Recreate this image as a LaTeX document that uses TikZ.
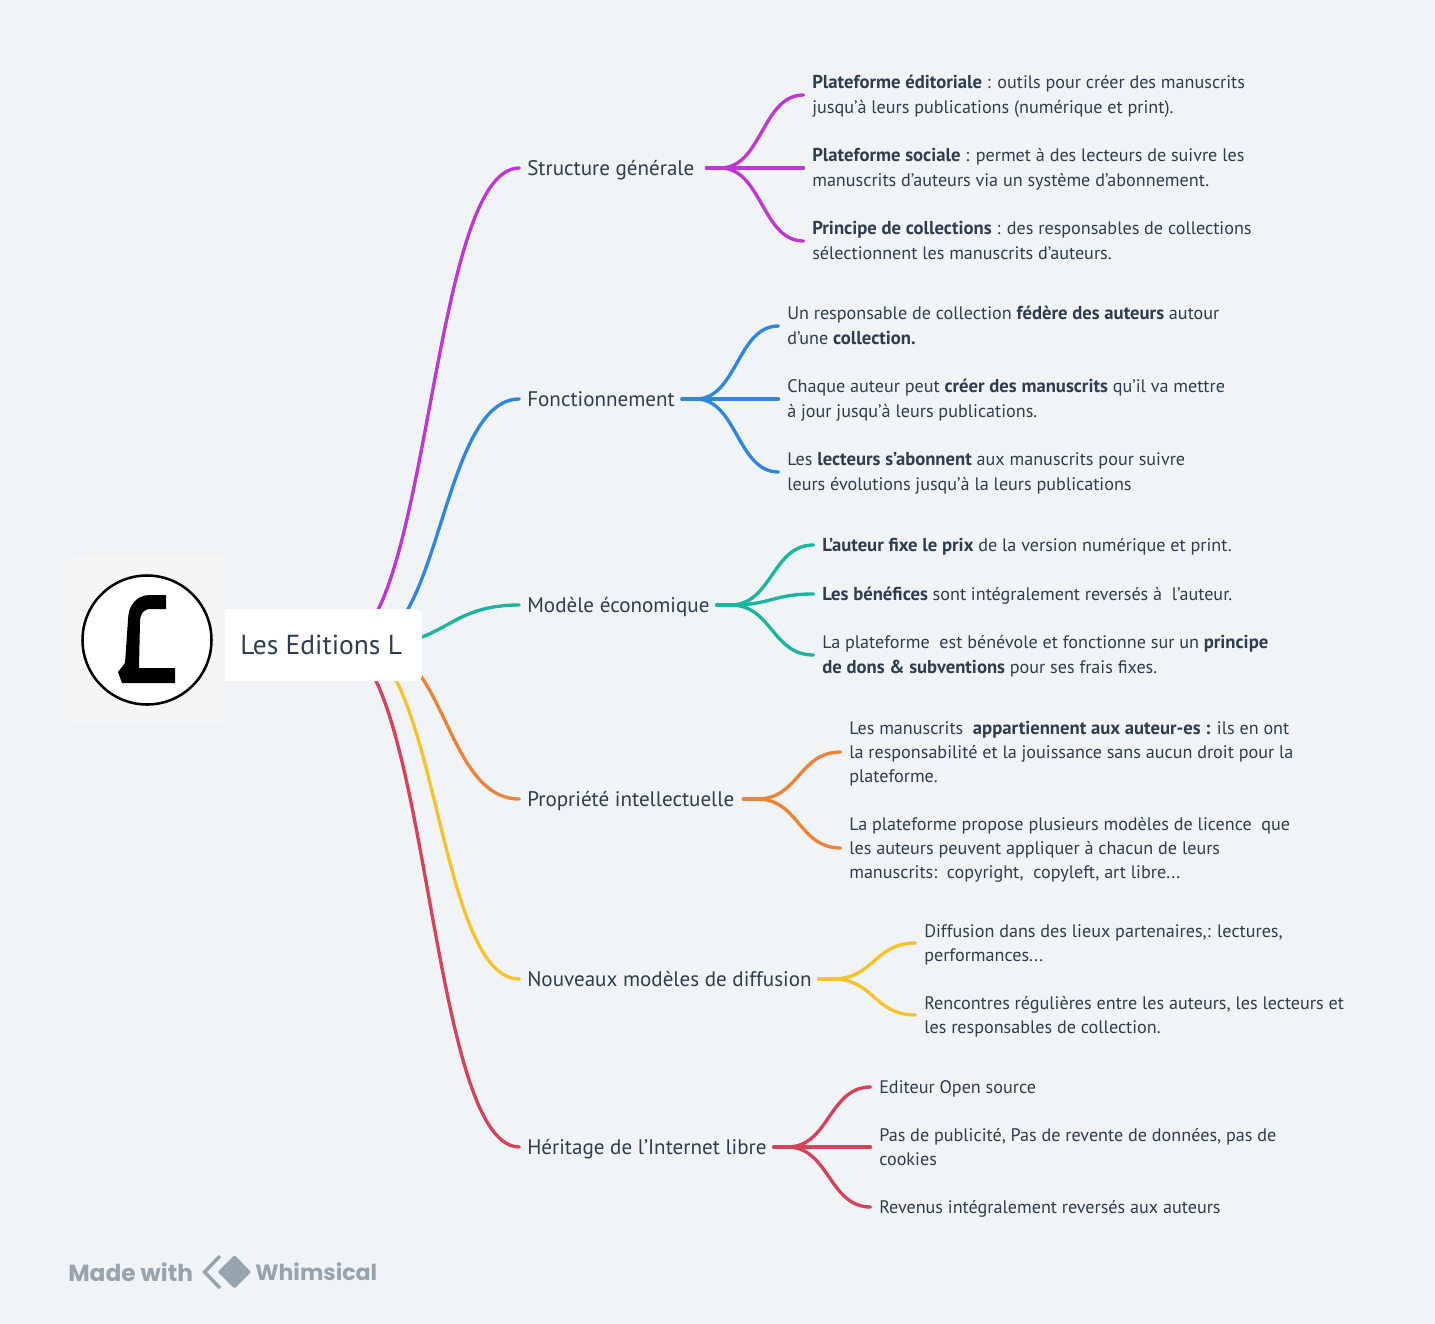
\documentclass[tikz,border=0pt]{standalone}
\usepackage{fontspec}
\usetikzlibrary{calc}
\setmainfont{PT Sans}
\newfontfamily\logofont{Poppins}
\definecolor{bgc}{HTML}{F0F4F7}
\definecolor{inkc}{HTML}{2E3D4F}
\definecolor{purplec}{HTML}{BF36D3}
\definecolor{bluec}{HTML}{2F87DD}
\definecolor{tealc}{HTML}{1AB5A0}
\definecolor{orangec}{HTML}{EC8338}
\definecolor{yellowc}{HTML}{F9C22B}
\definecolor{redc}{HTML}{D5425A}
\definecolor{greyc}{HTML}{97A4AE}
\tikzset{
  x=0.75pt,y=-0.75pt,
  conn/.style={line width=2.5pt,line cap=round},
  branch/.style={anchor=west,inner xsep=5.8pt,inner ysep=0pt,text=inkc,font=\fontsize{15.8}{18}\selectfont,
    execute at begin node={\rule{0pt}{14.5pt}},execute at end node={\rule[-3.3pt]{0pt}{0pt}}},
  leaf/.style={anchor=west,inner xsep=6.375pt,inner ysep=0pt,text=inkc,align=left,font=\fontsize{13.6}{18.75}\selectfont,
    execute at end node={\rule[-3.5pt]{0pt}{0pt}}},
  leafb/.style={leaf,font=\fontsize{13.6}{18}\selectfont},
}
\newcommand\topfix{\rule{0pt}{12.7pt}}
\newcommand\bld[1]{{\fontsize{14}{18}\selectfont\bfseries #1}}
\newcommand\swoop[3]{\draw[conn,#1] let \p1=(#2),\p2=(#3) in (\p1) .. controls ({(\x1+\x2)/2},\y1) and ({(\x1+\x2)/2},\y2) .. (\p2);}
\begin{document}
\begin{tikzpicture}
\useasboundingbox (0,0) rectangle (1435,1324);
\fill[bgc] (0,0) rectangle (1435,1324);
% hubs
\coordinate (hp) at (340,645);
\coordinate (hb) at (363,645);
\coordinate (ht) at (374,645);
\coordinate (ho) at (372,645);
\coordinate (hy) at (355,645);
\coordinate (hr) at (338,645);
% branch labels
\node[branch] (bp) at (519.3,168) {Structure générale};
\node[branch] (bb) at (519.3,399) {Fonctionnement};
\node[branch] (bt) at (519.3,605) {Modèle économique};
\node[branch] (bo) at (519.3,799) {Propriété intellectuelle};
\node[branch] (by) at (519.3,979) {Nouveaux modèles de diffusion};
\node[branch] (br) at (519.3,1147) {Héritage de l\char39 Internet libre};
% leaves
\node[leaf] (p1) at (803.5,95) {\topfix\bld{Plateforme éditoriale} : outils pour créer des manuscrits\\jusqu’à leurs publications (numérique et print).};
\node[leaf] (p2) at (803.5,168) {\topfix\bld{Plateforme sociale} : permet à des lecteurs de suivre les\\manuscrits d’auteurs via un système d’abonnement.};
\node[leaf] (p3) at (803.5,241) {\topfix\bld{Principe de collections} : des responsables de collections\\sélectionnent les manuscrits d’auteurs.};
\node[leaf] (b1) at (778.5,326) {\topfix Un responsable de collection \bld{fédère des auteurs} autour\\d’une \bld{collection.}};
\node[leaf] (b2) at (778.5,399) {\topfix Chaque auteur peut \bld{créer des manuscrits} qu’il va mettre\\à jour jusqu’à leurs publications.};
\node[leaf] (b3) at (778.5,472) {\topfix Les \bld{lecteurs s’abonnent} aux manuscrits pour suivre\\leurs évolutions jusqu’à la leurs publications};
\node[leaf] (t1) at (813.5,545) {\topfix\bld{L’auteur fixe le prix} de la version numérique et print.};
\node[leaf] (t2) at (813.5,594) {\topfix\bld{Les bénéfices} sont intégralement reversés à\ \ l’auteur.};
\node[leaf] (t3) at (813.5,655) {\topfix La plateforme\ \ est bénévole et fonctionne sur un \bld{principe}\\\bld{de dons \& subventions} pour ses frais fixes.};
\node[leafb] (o1) at (840.5,752) {\topfix Les manuscrits\ \ \bld{appartiennent aux auteur-es :} ils en ont\\la responsabilité et la jouissance sans aucun droit pour la\\plateforme.};
\node[leafb] (o2) at (840.5,848) {\topfix La plateforme propose plusieurs modèles de licence\ \ que\\les auteurs peuvent appliquer à chacun de leurs\\manuscrits:\ \ copyright,\ \ copyleft, art libre...};
\node[leafb] (y1) at (915.5,943) {\topfix Diffusion dans des lieux partenaires,: lectures,\\performances...};
\node[leafb] (y2) at (915.5,1015) {\topfix Rencontres régulières entre les auteurs, les lecteurs et\\les responsables de collection.};
\node[leafb] (r1) at (870.5,1087) {\topfix Editeur Open source};
\node[leafb] (r2) at (870.5,1147) {\topfix Pas de publicité, Pas de revente de données, pas de\\cookies};
\node[leafb] (r3) at (870.5,1207) {\topfix Revenus intégralement reversés aux auteurs};
% root connectors
\swoop{purplec}{hp}{bp.west}
\swoop{bluec}{hb}{bb.west}
\swoop{tealc}{ht}{bt.west}
\swoop{orangec}{ho}{bo.west}
\swoop{yellowc}{hy}{by.west}
\swoop{redc}{hr}{br.west}
% sub connectors
\coordinate (sp) at ($(bp.east)+(18,0)$);
\swoop{purplec}{sp}{p1.west}
\swoop{purplec}{sp}{p3.west}
\draw[conn,purplec] ($(bp.east)+(4,0)$) -- (p2.west);
\coordinate (sb) at ($(bb.east)+(13,0)$);
\swoop{bluec}{sb}{b1.west}
\swoop{bluec}{sb}{b3.west}
\draw[conn,bluec] ($(bb.east)+(-1,0)$) -- (b2.west);
\coordinate (st) at ($(bt.east)+(13,0)$);
\draw[conn,tealc] ($(bt.east)+(-1,0)$) -- (st);
\swoop{tealc}{st}{t1.west}
\swoop{tealc}{st}{t2.west}
\swoop{tealc}{st}{t3.west}
\coordinate (so) at ($(bo.east)+(15,0)$);
\draw[conn,orangec] ($(bo.east)+(1,0)$) -- (so);
\swoop{orangec}{so}{o1.west}
\swoop{orangec}{so}{o2.west}
\coordinate (sy) at ($(by.east)+(13,0)$);
\draw[conn,yellowc] ($(by.east)+(-1,0)$) -- (sy);
\swoop{yellowc}{sy}{y1.west}
\swoop{yellowc}{sy}{y2.west}
\coordinate (sr) at ($(br.east)+(13,0)$);
\swoop{redc}{sr}{r1.west}
\swoop{redc}{sr}{r3.west}
\draw[conn,redc] ($(br.east)+(-1,0)$) -- (r2.west);
% root
\fill[white,rounded corners=4.5pt] (300,609) rectangle (422,681);
\fill[white] (225,609) rectangle (320,681);
\node[anchor=west,inner sep=0pt,text=inkc,font=\fontsize{20.6}{24}\selectfont] (root) at (240,645) {Les Editions L};
% logo
\fill[black!4] (71,556) rectangle (225,723);
\draw[fill=white,line width=1.9pt] (147,640) circle[radius=64.5];
\fill[black] (166,595) -- (166,609) -- (151,609) .. controls (143,609) and (140,614) .. (140,622) -- (139,668) -- (175,668) -- (175,683) -- (122,683) -- (118,672) -- (125,663) -- (128,620) .. controls (128,605) and (137,595) .. (150,595) -- cycle;
% watermark
\node[anchor=west,inner sep=0pt,text=greyc,font=\logofont\bfseries\fontsize{17.5}{22}\selectfont] (made) at (68,1272) {Made with};
\fill[greyc,rounded corners=1pt] (217.7,1272) -- (234.5,1255) -- (251,1272) -- (234.5,1288.5) -- cycle;
\draw[greyc,line width=2.6pt] (220,1256) -- (204.5,1272) -- (220,1288);
\node[anchor=west,inner sep=0pt,text=greyc,font=\logofont\bfseries\fontsize{16.6}{22}\selectfont] (whim) at (255,1272) {Whimsical};
\end{tikzpicture}
\end{document}
